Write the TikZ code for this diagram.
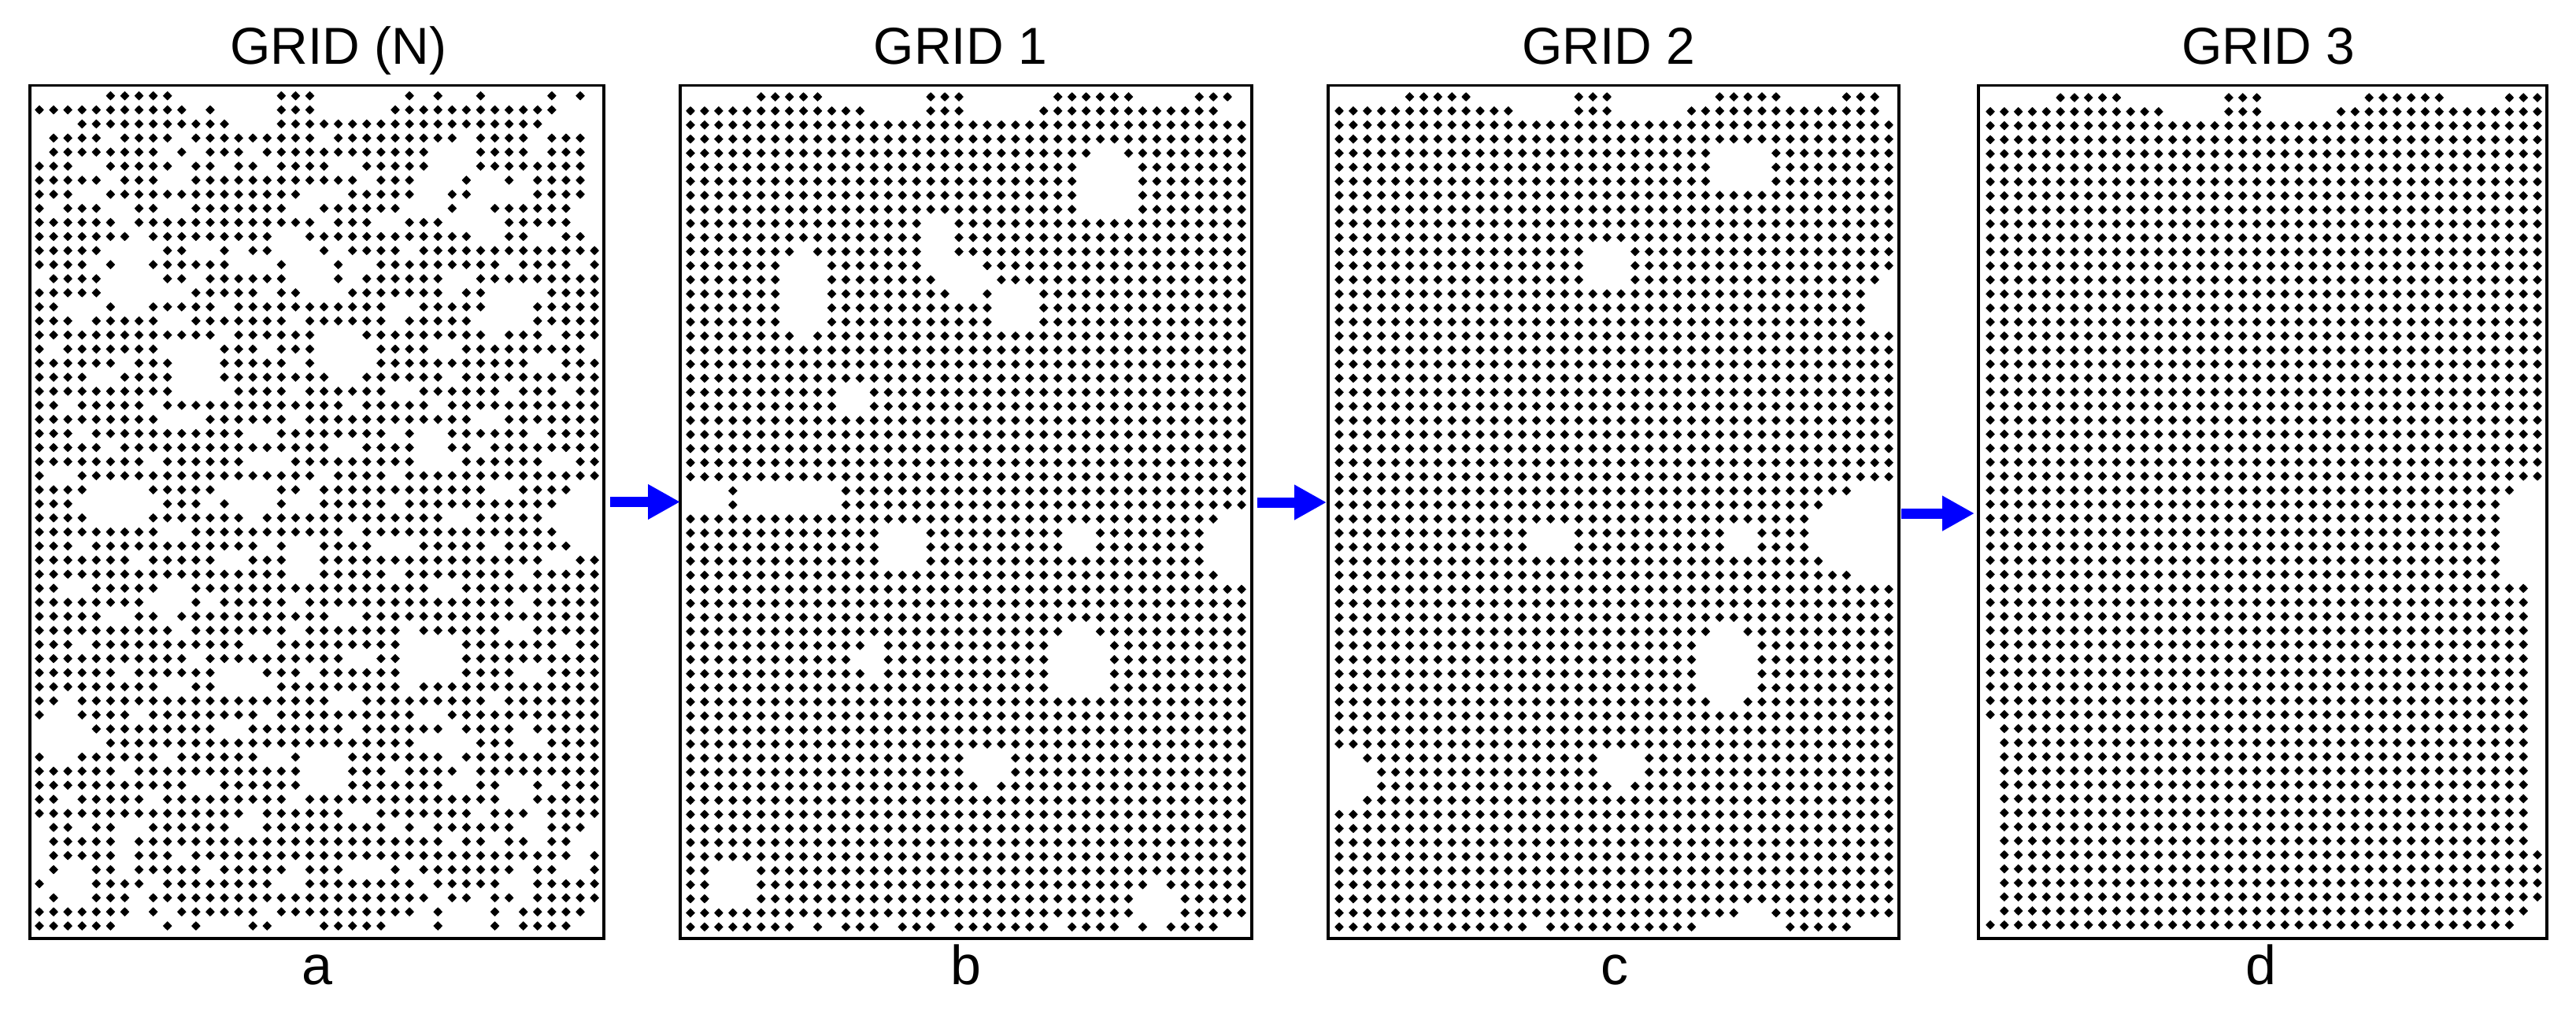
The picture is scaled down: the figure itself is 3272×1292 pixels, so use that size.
\documentclass[tikz,border=0pt]{standalone}
\usepackage{fontspec}
\setmainfont{Liberation Sans}
\usetikzlibrary{arrows.meta}
\newcount\rkcol \newcount\rkrow \newcount\rkdc \newcount\rkdr
\newdimen\rkx \newdimen\rky \newdimen\rkxo \newdimen\rkyo \newdimen\rkdx \newdimen\rkdy
\newdimen\rka \newdimen\rkb
\newif\ifrkskip
\rka=2.9pt \rkb=1.5pt
\def\rkholes{}
% elliptic hole: centre col, centre row, radius col, radius row (all in tenths of a cell)
\def\rkE#1#2#3#4{%
  \rkdc=\numexpr\rkcol*10-#1\relax \ifnum\rkdc<0 \rkdc=-\rkdc\fi
  \rkdr=\numexpr\rkrow*10-#2\relax \ifnum\rkdr<0 \rkdr=-\rkdr\fi
  \ifnum\rkdc<#3 \ifnum\rkdr<#4
    \ifnum\numexpr\rkdc*\rkdc*#4*#4+\rkdr*\rkdr*#3*#3\relax<\numexpr#3*#3*#4*#4\relax\rkskiptrue\fi
  \fi\fi}
% rectangular hole: col1 col2 row1 row2 (inclusive)
\def\rkQ#1#2#3#4{\ifnum\rkcol<#1 \else\ifnum\rkcol>#2 \else\ifnum\rkrow<#3 \else\ifnum\rkrow>#4 \else\rkskiptrue\fi\fi\fi\fi}
\def\rkdraw{%
  \rkx=\rkcol\rkdx \advance\rkx by \rkxo
  \rky=\rkrow\rkdy \advance\rky by \rkyo \rky=-\rky
  \pgfpathmoveto{\pgfqpoint{\dimexpr\rkx+\rka\relax}{\rky}}%
  \pgfpathlineto{\pgfqpoint{\dimexpr\rkx+\rkb\relax}{\dimexpr\rky+\rkb\relax}}%
  \pgfpathlineto{\pgfqpoint{\rkx}{\dimexpr\rky+\rka\relax}}%
  \pgfpathlineto{\pgfqpoint{\dimexpr\rkx-\rkb\relax}{\dimexpr\rky+\rkb\relax}}%
  \pgfpathlineto{\pgfqpoint{\dimexpr\rkx-\rka\relax}{\rky}}%
  \pgfpathlineto{\pgfqpoint{\dimexpr\rkx-\rkb\relax}{\dimexpr\rky-\rkb\relax}}%
  \pgfpathlineto{\pgfqpoint{\rkx}{\dimexpr\rky-\rka\relax}}%
  \pgfpathlineto{\pgfqpoint{\dimexpr\rkx+\rkb\relax}{\dimexpr\rky-\rkb\relax}}%
  \pgfpathclose}
\def\rkdot{\rkskipfalse\rkholes\ifrkskip\else\rkdraw\fi}
\def\rkparse#1{\ifx#1\relax\else\ifx#1x\rkdot\fi\advance\rkcol by 1 \expandafter\rkparse\fi}
\def\rkR#1{\rkcol=0 \rkparse#1\relax\pgfusepath{fill}\global\advance\rkrow by 1 }
\def\rkF{\rkR{xxxxxxxxxxxxxxxxxxxxxxxxxxxxxxxxxxxxxxxx}}
\def\rkpanel#1#2#3#4#5{\rkxo=#1\relax\rkyo=#2\relax\rkdx=#3\relax\rkdy=#4\relax\global\rkrow=0 #5}
\tikzset{
  panel/.style={draw=black, line width=1.8pt, inner sep=0pt, outer sep=0pt, minimum height=541.75pt},
  ttl/.style={anchor=base, inner sep=0pt, font=\fontsize{33pt}{36pt}\selectfont},
  lbl/.style={anchor=base, inner sep=0pt, font=\fontsize{35pt}{40pt}\selectfont},
  arr/.style={draw=blue, line width=6.5pt, -{Triangle[length=20.5pt,width=21pt]}}
}
\begin{document}
\begin{tikzpicture}[x=0.5pt,y=-0.5pt]
\useasboundingbox[fill=white] (0,0) rectangle (3272,1292);
% panels
\node[panel, minimum width=364.5pt] (pa) at (402.5,650.25) {};
\node[panel, minimum width=363pt] (pb) at (1227,650.25) {};
\node[panel, minimum width=362.5pt] (pc) at (2049.5,650.25) {};
\node[panel, minimum width=361pt] (pd) at (2874,650.25) {};
% titles
\node[ttl] (ta) at (430,81.7) {GRID (N)};
\node[ttl] (tb) at (1220,81.7) {GRID 1};
\node[ttl] (tc) at (2043,81.7) {GRID 2};
\node[ttl] (td) at (2881,81.7) {GRID 3};
% labels
\node[lbl] (la) at (403,1250) {a};
\node[lbl] (lb) at (1227,1250) {b};
\node[lbl] (lc) at (2051,1250) {c};
\node[lbl] (ld) at (2872,1250) {d};
% arrows
\coordinate (s1) at ([xshift=4pt,yshift=6.4pt]pa.east);
\coordinate (s2) at ([xshift=3.5pt,yshift=6.1pt]pb.east);
\coordinate (s3) at ([xshift=1.5pt,yshift=-0.9pt]pc.east);
\draw[arr] (s1) -- (pb.west |- s1);
\draw[arr] (s2) -- ([xshift=-1pt]pc.west |- s2);
\draw[arr] (s3) -- ([xshift=-2.5pt]pd.west |- s3);
% dots panel a
\def\rkholes{\ifnum\rkrow>11 \ifnum\rkrow<52
  \rkE{65}{135}{19}{21}\rkE{190}{128}{14}{14}\rkE{330}{150}{14}{19}\rkE{110}{195}{17}{21}%
  \rkE{215}{185}{19}{19}\rkE{275}{250}{14}{15}\rkE{55}{288}{26}{15}\rkE{148}{283}{19}{12}%
  \rkE{395}{302}{32}{28}\rkE{185}{330}{14}{12}\rkE{90}{360}{14}{12}\rkE{275}{400}{20}{20}%
  \rkE{142}{415}{15}{15}\rkE{15}{457}{19}{19}\rkE{200}{482}{19}{17}\rkE{290}{460}{14}{12}%
  \rkE{335}{495}{15}{15}\fi\fi}
\rkpanel{25pt}{60.85pt}{9.04pt}{8.935pt}{%
\rkR{.....xxxxx.......xxx......x.x..x....x.x.}
\rkR{xxxxxxxxxxx.x....xxx.....xxxxxxxxxxxx...}
\rkR{...xxxxxxxxxxx...xxxxxxxxxxxxxxxxxxx....}
\rkR{.xxxx.xxxx.xxxxxxxxx.xxxxxxxxx.xxxx.xxx.}
\rkR{.xxxxxxxx.x.xxx.xxxxxxxxxxxx...xxxx.xxx.}
\rkR{xxx..xxxxx.xx.xx.xxxx..xxxxx...xxxxxxxx.}
\rkR{xxxxx.xxx..xxxxxxxxxxxx.xxx...x..x.xxxx.}
\rkR{xxx..xxxxxxxxxxxxxx...xxxxx..xx....xxxx.}
\rkR{x.xxx..xx..xxxxxxx..xxxxxx...x..xxxxxx..}
\rkR{xxxxxx.xxxxxxxxxxxxx.xxx..xxx....xxxxx..}
\rkR{xxxxxxx.xxxxxxxxx..xxxxxxxxxxxx..xx..xx.}
\rkR{xxxxx....xx..x.xx...x.xxxx.xxxxxxxxxxxxx}
\rkR{xxxx.xxxxxxxxx...xxxxx..xxxxxxxxx.xxxx.x}
\rkR{.xxxxx.xxxx.xxxxxxxxxx.xxxxxx..xxxxxxxxx}
\rkR{xxxxxxxxx..xxxxx.xxx..xxxxxxx.xxxxx.xxxx}
\rkR{xx...xxxxxxxx.xxxxxxxxxxx..xxxxxxx.xxxxx}
\rkR{xxx.xxxxx..xxxxxxx.xxxxxx.xxxxx..xxxxxxx}
\rkR{xxxxxxxxxxxxx.xxxxxx...xxxxxxxxx.xxx.xxx}
\rkR{x.xxxxxxx..xxxxx.xxxxxxxxxxx..xxxxxxxxx.}
\rkR{xxxxxx.xxxxxxxxxxx.xxx..xxxxxxxxxxx..xxx}
\rkR{xxxx..xxxx.xxxxxxxxxx.xxxxxxx.xxxxxxxxxx}
\rkR{xxxxxxxxxxxx..xxxx.xxxxxx..xxxxxx.xxx.xx}
\rkR{xx.xxxxx.xxxxxxxxxxxxx.xxxxx.xxxxxxxxxxx}
\rkR{xxxxxxxxx...xxxxxx.xxxxxxxxxxxx..xxxxxxx}
\rkR{xxx.xxxxxxxxxxx..xxxxxxxx.xxxxxxxxx.xxxx}
\rkR{xxxxx.xxxxxxxxxxxxxxx..xxxxxxxx.xxxxxxxx}
\rkR{xxxxxxxx.xxxxxx...xxxxxxxxxxx.xxxxxx..xx}
\rkR{x..xxxxxxxxxxxxxxxxx.xxxx.xxxxxxxxxxxxxx}
\rkR{xxxx....xxxxxxxxxxx.xxxxxxxxxxxx..xxxxxx}
\rkR{xxxxxxxxxxxx.xxxxx..xxxxx.xxxxxxxxxxxxxx}
\rkR{xxxxx.xxxxxxxxx.xxxxxxxxxxxxx..xxxxx.xxx}
\rkR{xxxxxxxxx..xxxxxxxxxxx.xxxxxxxxxxxxxxxxx}
\rkR{xxx.xxxxxxxxxxxx.xxxxxxx...xxxxx.xxxxxxx}
\rkR{xxxxxxx.xxxxx..xxxxxxxxxxxxxxxxxxxxx..xx}
\rkR{xxxxxxxxxxxxxxxxxx..xxxxx.xxxxxxxx.xxxxx}
\rkR{xx..xxxxxx.xxxxxxxxxxxxxxxxx..xxxxxxxxxx}
\rkR{xxxxxxxxxxxx.xxxxx.xxxxxxxxxxxxxxx.xxxxx}
\rkR{xxxxx..xxxxxxxxxxxxxx..xxxxxxxxxxxxxxxxx}
\rkR{xxxxxxxxxx.xxxxxxx.xxxxxxx.xxxxxx..xxxxx}
\rkR{xxx.xxxxxxxxxxx..xxxxxxxxxxxxxxxxxxxx.xx}
\rkR{xxxxxxxxxxx.xxxxxxxxxx..xxxxx.xxxxxxxxxx}
\rkR{xxxxxx.xxxxxxxxxxxx.xxxxxxxxxxxxxx..xxxx}
\rkR{xxxxxxxxx..xxxxx.xxxxxxxxx.xxxxxxxxxxxxx}
\rkR{xx.xxxxxxxxxxxxxxxxxx..xxxxxxxxx.xxxxxxx}
\rkR{xxxxxxx.xxxxxxxx.xxxxxxxxxx..xxxxxxxxxxx}
\rkR{xxxxxxxxxxxxx..xxxxxxx.xxxxxxxxxxx.xxxxx}
\rkR{xxxx.xxxxxxxxxxxxxxxxxxxxxx.xxxxxx..xxxx}
\rkR{xxxxxxxxx.xxxxxx..xxxxxxxxxxxxxxxxxxxxxx}
\rkR{xxxxxx.xxxxxxxxxxxx.xxxxx.xxxx.xxxxxxxxx}
\rkR{xxxxxxxxxxx..xxxxxxxxxxxxxxxx..xxxxx.xxx}
\rkR{xx.xxxxx.xxxxxxxxx.xxxxxxxxxxxxxxxxxxxxx}
\rkR{xxxxxxxxxxxxxxx.xxxxxx..xxxxxxx.xxx.xxxx}
\rkR{.xx.xx..xxxxxx..xxxxxxxxx.x.xxxxxx..xxx.}
\rkR{.xxxxx.xxxxxxxxxxxxxxxxxxxxxx.xx.xx.xx..}
\rkR{.xxxxx.xxx.xxxxxxxxxxxxxxxxxxxxxxxxxxx.x}
\rkR{.x..xx.xxxxx.xxxxx.xxx...x.xxxxxxx.xx..x}
\rkR{x...xxxx.xxxxxxxx..xxxxxxxx.xxxxx..xxxxx}
\rkR{.x..xxx.xxxxxxxxxxxxxxxxxxxx.xx.xx.xxxxx}
\rkR{xxxxxxx.x.xxxxxx.xxxxxxxxxx.x...x.xxxxx.}
\rkR{xxxxxx...x.x...xx...xxxxx...x...x.xxxx..}
}
% dots panel b
\def\rkholes{\rkE{295}{63}{25}{25}\rkE{78}{140}{18}{32}\rkE{175}{105}{15}{18}\rkE{195}{130}{16}{20}%
  \rkE{230}{150}{13}{16}\rkE{116}{217}{10}{10}\rkE{10}{285}{15}{12}\rkE{70}{285}{36}{12}%
  \rkE{151}{320}{14}{17}\rkE{276}{315}{13}{15}\rkE{390}{320}{26}{22}\rkE{274}{403}{22}{27}%
  \rkE{210}{476}{15}{16}\rkE{28}{560}{18}{18}\rkE{128}{400}{11}{12}\rkE{330}{575}{16}{16}}
\rkpanel{438.5pt}{61.5pt}{8.975pt}{8.935pt}{%
\rkR{.....xxxxx.......xxx......xxxxxx....xxx.}
\rkR{xxxxxxxxxxxxx....xxx.....xxxxxxxxxxxxx..}
\foreach \i in {1,...,57}{\rkF}
\rkR{xxxxxxxx.x.xxx.xxx.xxxxxxx.xxxx.xxxxxx..}}
% dots panel c
\def\rkholes{\rkE{285}{50}{19}{20}\rkE{190}{122}{17}{18}\rkE{392}{148}{16}{20}\rkE{385}{310}{48}{32}%
  \rkE{285}{317}{13}{14}\rkE{148}{315}{15}{13}\rkE{277}{405}{23}{28}\rkE{201}{476}{16}{16}%
  \rkE{5}{486}{20}{20}\rkE{297}{595}{23}{16}}
\rkpanel{850.5pt}{61.5pt}{8.95pt}{8.935pt}{%
\rkR{.....xxxxx.......xxx.......xxxxx....xxx.}
\rkR{xxxxxxxxxxxxx....xxx.....xxxxxxxxxxxxxx.}
\foreach \i in {1,...,57}{\rkF}
\rkR{xxxxxxxxxxxxxx.xxxxxxxxxxx...xxxxxxxx..}}
% dots panel d
\def\rkholes{\rkE{395}{314}{35}{39}\rkQ{39}{39}{36}{53}\rkQ{0}{0}{45}{58}\rkQ{39}{39}{58}{59}\rkQ{38}{39}{59}{59}}
\rkpanel{1264pt}{62pt}{8.91pt}{8.905pt}{%
\rkR{.....xxxxx.......xxx.......xxxxxx....xxx}
\rkR{xxxxxxxxxxxxx....xxx.....xxxxxxxxxxxxxxx}
\foreach \i in {1,...,58}{\rkF}}
\end{tikzpicture}
\end{document}
